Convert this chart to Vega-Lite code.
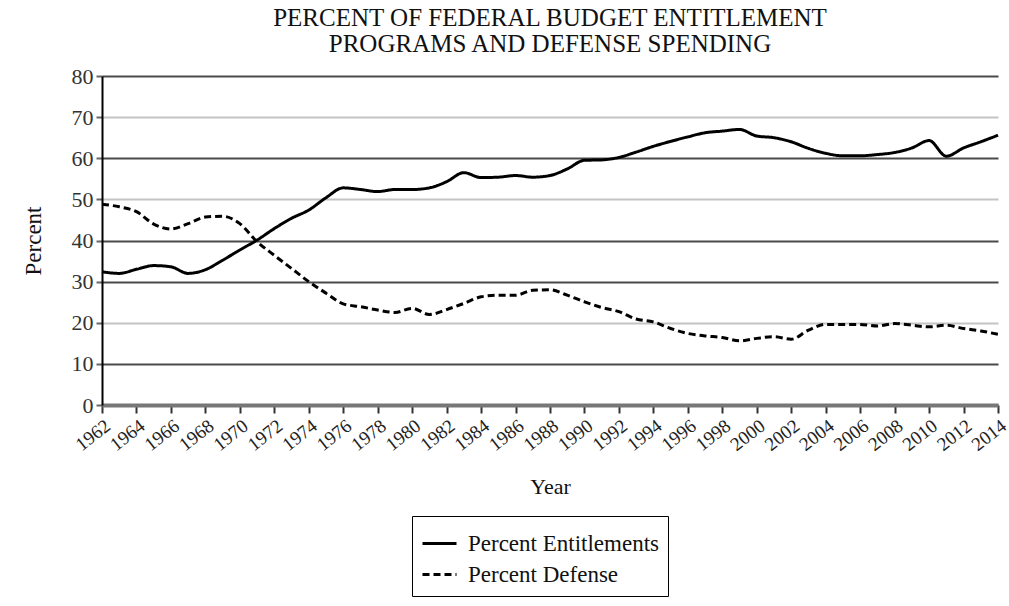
{
  "$schema": "https://vega.github.io/schema/vega-lite/v6.json",
  "width": 896,
  "height": 329,
  "autosize": {"type": "none"},
  "padding": {"left": 102, "top": 76, "right": 11, "bottom": 201},
  "background": "white",
  "config": {"font": "Liberation Serif", "view": {"stroke": null}},
  "title": {
    "text": ["PERCENT OF FEDERAL BUDGET ENTITLEMENT", "PROGRAMS AND DEFENSE SPENDING"],
    "font": "Liberation Serif",
    "fontSize": 25,
    "fontWeight": "normal",
    "lineHeight": 26,
    "offset": 8,
    "anchor": "middle",
    "color": "#111"
  },
  "data": {
    "values": [
      {"year": 1962, "Percent Entitlements": 32.4, "Percent Defense": 48.8},
      {"year": 1963, "Percent Entitlements": 32.0, "Percent Defense": 48.2},
      {"year": 1964, "Percent Entitlements": 33.0, "Percent Defense": 47.0},
      {"year": 1965, "Percent Entitlements": 33.9, "Percent Defense": 44.0},
      {"year": 1966, "Percent Entitlements": 33.6, "Percent Defense": 42.8},
      {"year": 1967, "Percent Entitlements": 32.0, "Percent Defense": 44.1},
      {"year": 1968, "Percent Entitlements": 32.9, "Percent Defense": 45.7},
      {"year": 1969, "Percent Entitlements": 35.2, "Percent Defense": 45.9},
      {"year": 1970, "Percent Entitlements": 37.7, "Percent Defense": 44.1},
      {"year": 1971, "Percent Entitlements": 40.1, "Percent Defense": 39.7},
      {"year": 1972, "Percent Entitlements": 42.9, "Percent Defense": 36.4},
      {"year": 1973, "Percent Entitlements": 45.4, "Percent Defense": 33.2},
      {"year": 1974, "Percent Entitlements": 47.4, "Percent Defense": 30.0},
      {"year": 1975, "Percent Entitlements": 50.4, "Percent Defense": 27.2},
      {"year": 1976, "Percent Entitlements": 52.8, "Percent Defense": 24.6},
      {"year": 1977, "Percent Entitlements": 52.4, "Percent Defense": 23.9},
      {"year": 1978, "Percent Entitlements": 51.9, "Percent Defense": 23.1},
      {"year": 1979, "Percent Entitlements": 52.4, "Percent Defense": 22.5},
      {"year": 1980, "Percent Entitlements": 52.4, "Percent Defense": 23.5},
      {"year": 1981, "Percent Entitlements": 52.8, "Percent Defense": 22.0},
      {"year": 1982, "Percent Entitlements": 54.3, "Percent Defense": 23.2},
      {"year": 1983, "Percent Entitlements": 56.5, "Percent Defense": 24.7},
      {"year": 1984, "Percent Entitlements": 55.3, "Percent Defense": 26.3},
      {"year": 1985, "Percent Entitlements": 55.4, "Percent Defense": 26.7},
      {"year": 1986, "Percent Entitlements": 55.8, "Percent Defense": 26.7},
      {"year": 1987, "Percent Entitlements": 55.4, "Percent Defense": 27.9},
      {"year": 1988, "Percent Entitlements": 55.8, "Percent Defense": 28.0},
      {"year": 1989, "Percent Entitlements": 57.4, "Percent Defense": 26.7},
      {"year": 1990, "Percent Entitlements": 59.5, "Percent Defense": 25.1},
      {"year": 1991, "Percent Entitlements": 59.6, "Percent Defense": 23.7},
      {"year": 1992, "Percent Entitlements": 60.2, "Percent Defense": 22.7},
      {"year": 1993, "Percent Entitlements": 61.5, "Percent Defense": 20.9},
      {"year": 1994, "Percent Entitlements": 62.9, "Percent Defense": 20.2},
      {"year": 1995, "Percent Entitlements": 64.1, "Percent Defense": 18.6},
      {"year": 1996, "Percent Entitlements": 65.2, "Percent Defense": 17.4},
      {"year": 1997, "Percent Entitlements": 66.2, "Percent Defense": 16.8},
      {"year": 1998, "Percent Entitlements": 66.6, "Percent Defense": 16.4},
      {"year": 1999, "Percent Entitlements": 67.0, "Percent Defense": 15.6},
      {"year": 2000, "Percent Entitlements": 65.4, "Percent Defense": 16.2},
      {"year": 2001, "Percent Entitlements": 65.0, "Percent Defense": 16.6},
      {"year": 2002, "Percent Entitlements": 64.0, "Percent Defense": 16.0},
      {"year": 2003, "Percent Entitlements": 62.4, "Percent Defense": 18.2},
      {"year": 2004, "Percent Entitlements": 61.2, "Percent Defense": 19.6},
      {"year": 2005, "Percent Entitlements": 60.6, "Percent Defense": 19.6},
      {"year": 2006, "Percent Entitlements": 60.6, "Percent Defense": 19.6},
      {"year": 2007, "Percent Entitlements": 60.9, "Percent Defense": 19.2},
      {"year": 2008, "Percent Entitlements": 61.4, "Percent Defense": 19.8},
      {"year": 2009, "Percent Entitlements": 62.5, "Percent Defense": 19.4},
      {"year": 2010, "Percent Entitlements": 64.3, "Percent Defense": 19.0},
      {"year": 2011, "Percent Entitlements": 60.5, "Percent Defense": 19.4},
      {"year": 2012, "Percent Entitlements": 62.5, "Percent Defense": 18.6},
      {"year": 2013, "Percent Entitlements": 64.0, "Percent Defense": 18.0},
      {"year": 2014, "Percent Entitlements": 65.6, "Percent Defense": 17.2}
    ]
  },
  "transform": [
    {"fold": ["Percent Entitlements", "Percent Defense"], "as": ["series", "value"]}
  ],
  "mark": {"type": "line", "color": "black", "strokeWidth": 3, "interpolate": "monotone"},
  "encoding": {
    "x": {
      "field": "year",
      "type": "quantitative",
      "scale": {"domain": [1962, 2014], "nice": false, "zero": false},
      "axis": {
        "values": [1962, 1964, 1966, 1968, 1970, 1972, 1974, 1976, 1978, 1980, 1982, 1984, 1986, 1988, 1990, 1992, 1994, 1996, 1998, 2000, 2002, 2004, 2006, 2008, 2010, 2012, 2014],
        "format": "d",
        "labelAngle": -38,
        "labelAlign": "right",
        "labelBaseline": "top",
        "labelFontSize": 19,
        "labelColor": "#222",
        "labelPadding": 3,
        "labelOverlap": false,
        "labelFlush": false,
        "tickSize": 8,
        "tickWidth": 2,
        "tickColor": "#333",
        "domainColor": "#777",
        "domainWidth": 4,
        "grid": false,
        "title": "Year",
        "titleFontSize": 22,
        "titleFontWeight": "normal",
        "titleColor": "#111",
        "titlePadding": 22
      }
    },
    "y": {
      "field": "value",
      "type": "quantitative",
      "scale": {"domain": [0, 80], "nice": false},
      "axis": {
        "values": [0, 10, 20, 30, 40, 50, 60, 70, 80],
        "title": "Percent",
        "titleFontSize": 23,
        "titleFontWeight": "normal",
        "titleColor": "#111",
        "titlePadding": 26,
        "labelFontSize": 22,
        "labelColor": "#333",
        "labelPadding": 3,
        "tickSize": 6,
        "tickWidth": 2,
        "tickColor": "#666",
        "domainColor": "black",
        "domainWidth": 2,
        "grid": true,
        "gridWidth": 2,
        "gridColor": {"condition": {"test": "datum.value == 20 || datum.value == 50 || datum.value == 70", "value": "#c4c4c4"}, "value": "#4a4a4a"}
      }
    },
    "strokeDash": {
      "field": "series",
      "type": "nominal",
      "scale": {"domain": ["Percent Entitlements", "Percent Defense"], "range": [[1, 0], [7, 4]]},
      "legend": {
        "orient": "none",
        "legendX": 310,
        "legendY": 440,
        "title": null,
        "direction": "vertical",
        "strokeColor": "black",
        "padding": 9,
        "symbolType": "stroke",
        "symbolSize": 1156,
        "symbolStrokeWidth": 3,
        "symbolStrokeColor": "black",
        "labelFontSize": 23,
        "labelColor": "#111",
        "labelOffset": 10,
        "labelLimit": 400,
        "rowPadding": -6
      }
    }
  }
}
